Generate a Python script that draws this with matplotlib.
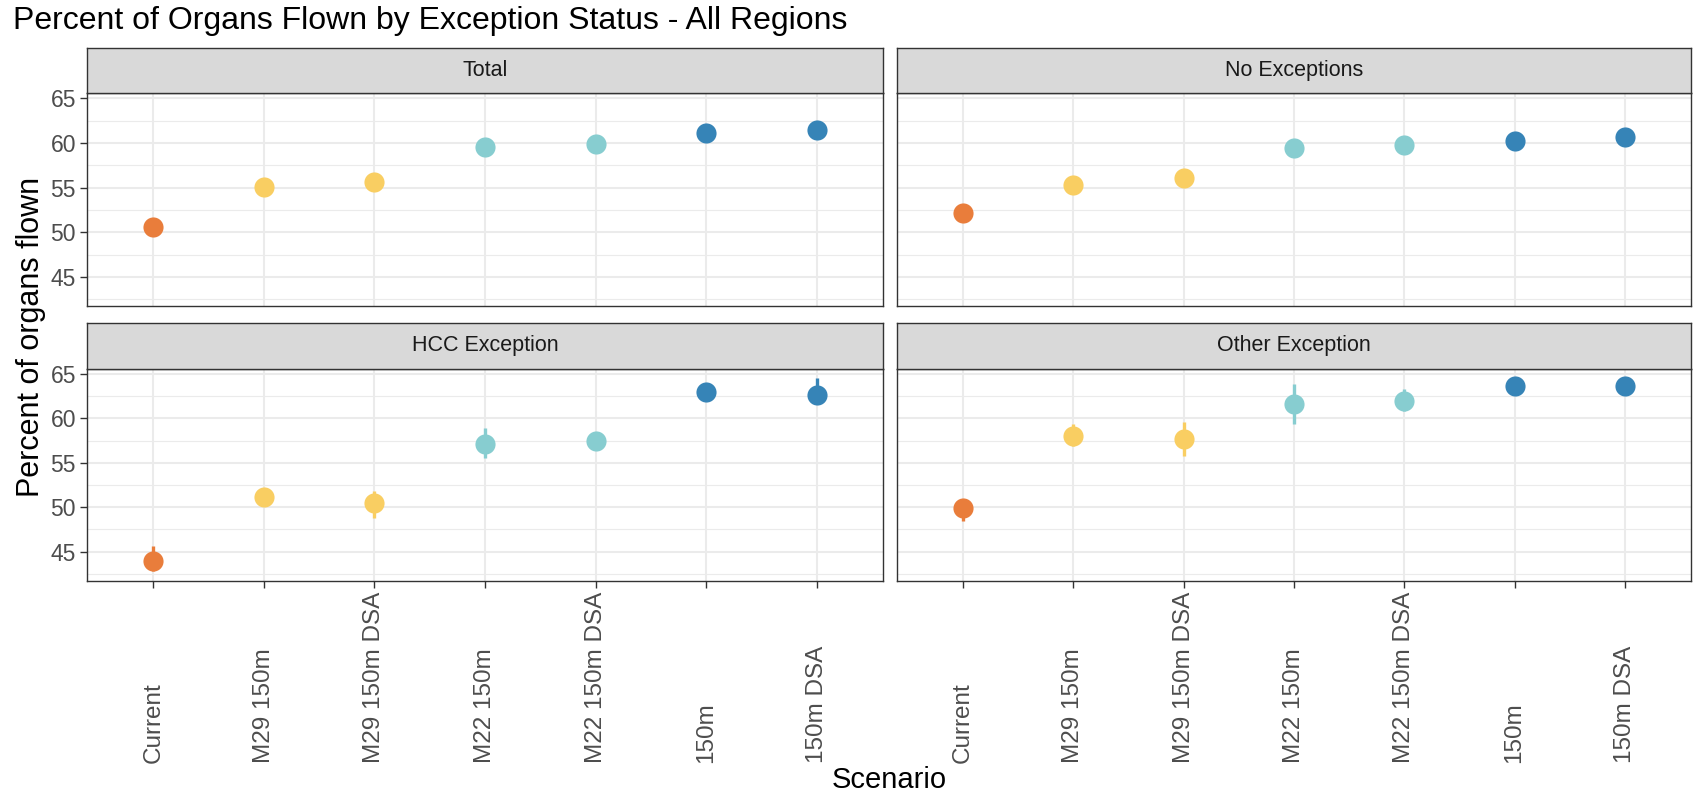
import matplotlib
matplotlib.use("Agg")
import matplotlib.pyplot as plt
from matplotlib.ticker import MultipleLocator

plt.rcParams['font.family'] = ['Liberation Sans', 'DejaVu Sans']

# Data
scenarios = ["Current", "M29 150m", "M29 150m DSA", "M22 150m", "M22 150m DSA", "150m", "150m DSA"]
point_colors = ["#E97D3B", "#F9CE62", "#F9CE62", "#87CDD0", "#87CDD0", "#3684B7", "#3684B7"]

panel_titles = ["Total", "No Exceptions", "HCC Exception", "Other Exception"]

total = [50.65, 55.1, 55.6, 59.5, 59.85, 61.15, 61.45]
total_lo = [50.2, 54.7, 55.1, 59.0, 59.4, 60.7, 61.0]
total_hi = [51.1, 55.5, 56.1, 60.0, 60.3, 61.6, 61.9]

no_exc = [52.2, 55.3, 56.05, 59.4, 59.8, 60.2, 60.7]
no_exc_lo = [51.7, 54.9, 55.6, 58.9, 59.4, 59.8, 60.3]
no_exc_hi = [52.7, 55.7, 56.5, 59.9, 60.2, 60.6, 61.1]

hcc = [44.0, 51.2, 50.45, 57.1, 57.4, 62.95, 62.6]
hcc_lo = [42.8, 50.6, 48.75, 55.5, 56.6, 62.4, 61.6]
hcc_hi = [45.6, 51.8, 51.8, 58.9, 58.3, 63.5, 64.5]

other = [49.9, 58.0, 57.65, 61.6, 62.0, 63.65, 63.65]
other_lo = [48.5, 56.9, 55.8, 59.35, 60.8, 63.1, 63.1]
other_hi = [50.8, 59.35, 59.55, 63.9, 63.3, 64.2, 64.2]

series = [(total, total_lo, total_hi), (no_exc, no_exc_lo, no_exc_hi),
          (hcc, hcc_lo, hcc_hi), (other, other_lo, other_hi)]

W, H = 1698, 797
fig = plt.figure(figsize=(W / 100, H / 100), dpi=100)

# panel boxes in pixels: (left, right), (strip top, panel top, panel bottom)
cols = [(87, 883), (897, 1691)]
rows = [(48, 93, 306.5), (323, 368.5, 581)]

x = list(range(1, len(scenarios) + 1))

for k, (vals, lo, hi) in enumerate(series):
    r, c = divmod(k, 2)
    x0, x1 = cols[c]
    st, pt, pb = rows[r]
    ax = fig.add_axes([x0 / W, 1 - pb / H, (x1 - x0) / W, (pb - pt) / H])
    sax = fig.add_axes([x0 / W, 1 - pt / H, (x1 - x0) / W, (pt - st) / H])

    # strip
    sax.set_facecolor("#D9D9D9")
    sax.set_xticks([])
    sax.set_yticks([])
    for s in sax.spines.values():
        s.set_color("#333333")
        s.set_linewidth(1.0)
    sax.text(0.5, 0.5, panel_titles[k], ha='center', va='center', fontsize=15.5,
             color="#1A1A1A", transform=sax.transAxes)

    # panel
    ax.set_xlim(0.4, 7.6)
    ax.set_ylim(41.7, 65.6)
    ax.yaxis.set_major_locator(MultipleLocator(5))
    ax.yaxis.set_minor_locator(MultipleLocator(2.5))
    ax.set_xticks(x)
    ax.grid(which='major', color="#EBEBEB", linewidth=1.5, zorder=0)
    ax.grid(which='minor', axis='y', color="#EBEBEB", linewidth=0.8, zorder=0)
    ax.set_axisbelow(True)
    for s in ax.spines.values():
        s.set_color("#333333")
        s.set_linewidth(1.0)

    for xi, v, l, h, col in zip(x, vals, lo, hi, point_colors):
        ax.plot([xi, xi], [l, h], color=col, linewidth=2.4, solid_capstyle='butt', zorder=3)
        ax.plot(xi, v, 'o', color=col, markersize=14.5, markeredgewidth=0, zorder=4)

    ax.tick_params(which='minor', length=0)
    ax.tick_params(which='major', length=5, width=1, color="#333333",
                   labelsize=16.5, labelcolor="#4D4D4D")
    if c == 0:
        ax.tick_params(axis='y', pad=3)
    else:
        ax.tick_params(axis='y', left=False, labelleft=False)
    if r == 0:
        ax.tick_params(axis='x', bottom=False, labelbottom=False)
    else:
        ax.set_xticklabels(scenarios, rotation=90)
        ax.tick_params(axis='x', pad=126, labelsize=17.5)
        for t in ax.get_xticklabels():
            t.set_va('bottom')

fig.text(13 / W, 1 - 21 / H, "Percent of Organs Flown by Exception Status - All Regions",
         ha='left', va='center', fontsize=23, color="black")
fig.text(31 / W, 1 - 337 / H, "Percent of organs flown", rotation=90,
         ha='center', va='center', fontsize=22, color="black")
fig.text(889 / W, 1 - 780 / H, "Scenario", ha='center', va='center', fontsize=21, color="black")

fig.savefig("out.png", dpi=100, facecolor="white")
